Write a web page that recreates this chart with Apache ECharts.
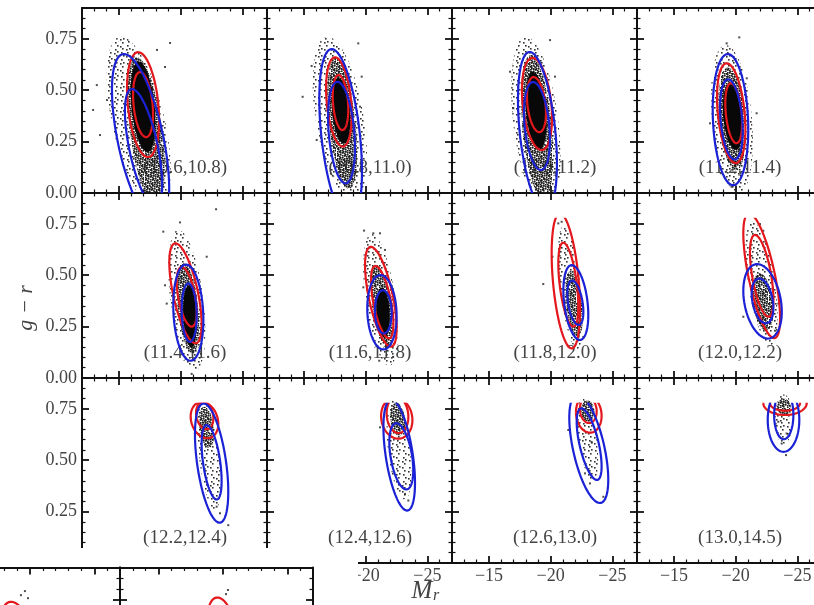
<!DOCTYPE html>
<html>
<head>
<meta charset="utf-8">
<script src="https://cdn.jsdelivr.net/npm/echarts@6/dist/echarts.min.js"></script>
<style>
html, body { margin: 0; padding: 0; background: #fff; }
#main { width: 814px; height: 605px; }
</style>
</head>
<body>
<div id="main"></div>
<script>
// bins of the panels, reading order
const binLabels = ['(10.6,10.8)', '(10.8,11.0)', '(11.0,11.2)', '(11.2,11.4)',
                   '(11.4,11.6)', '(11.6,11.8)', '(11.8,12.0)', '(12.0,12.2)',
                   '(12.2,12.4)', '(12.4,12.6)', '(12.6,13.0)', '(13.0,14.5)'];
const xTickValues = [-15, -20, -25];
const yTickValues = [0, 0.25, 0.5, 0.75];

// contours: [panel, centre Mr, centre g-r, half width (mag), half height, tilt]
const redContours = [
  [0, -16.95, 0.430, 1.30, 0.255, 0.30], [0, -16.95, 0.430, 0.81, 0.158, 0.30],
  [1, -17.83, 0.443, 1.04, 0.217, 0.30], [1, -17.96, 0.440, 0.63, 0.134, 0.25],
  [2, -18.89, 0.433, 1.22, 0.224, 0.30], [2, -18.85, 0.430, 0.77, 0.134, 0.30],
  [3, -19.64, 0.388, 1.15, 0.243, 0.32], [3, -19.84, 0.388, 0.68, 0.146, 0.33],
  [4, -20.39, 0.412, 1.31, 0.243, 0.62], [4, -20.49, 0.395, 0.81, 0.145, 0.50],
  [5, -21.23, 0.395, 1.28, 0.243, 0.63], [5, -21.34, 0.369, 0.91, 0.176, 0.60],
  [6, -21.23, 0.472, 1.15, 0.328, 0.41], [6, -21.43, 0.454, 0.81, 0.204, 0.50],
  [7, -22.11, 0.497, 1.49, 0.303, 0.68], [7, -22.11, 0.497, 0.95, 0.199, 0.57],
  [8, -21.93, 0.695, 1.12, 0.088, 0.20], [8, -21.95, 0.717, 0.70, 0.066, 0.20],
  [9, -22.52, 0.705, 1.27, 0.100, 0.10], [9, -22.58, 0.720, 0.88, 0.088, 0.10],
  [10, -23.09, 0.725, 1.04, 0.091, 0.10], [10, -23.05, 0.744, 0.68, 0.063, 0.10],
  [11, -24.00, 0.778, 1.76, 0.058, 0.00], [11, -24.00, 0.778, 1.22, 0.037, 0.00],
  [12, -18.90, 0.600, 1.20, 0.140, 0.30], [13, -19.90, 0.620, 1.10, 0.140, 0.30]
];
const blueContours = [
  [0, -16.75, 0.260, 2.32, 0.416, 0.58], [0, -16.99, 0.220, 1.51, 0.286, 0.62],
  [1, -17.97, 0.280, 1.73, 0.420, 0.42], [1, -18.04, 0.294, 1.09, 0.247, 0.30],
  [2, -18.93, 0.300, 1.58, 0.386, 0.40], [2, -18.89, 0.326, 1.05, 0.214, 0.30],
  [3, -19.58, 0.357, 1.44, 0.319, 0.15], [3, -19.65, 0.358, 0.92, 0.195, 0.29],
  [4, -20.62, 0.318, 1.22, 0.234, 0.15], [4, -20.69, 0.318, 0.61, 0.142, 0.10],
  [5, -21.32, 0.320, 1.19, 0.181, 0.10], [5, -21.43, 0.322, 0.68, 0.105, 0.05],
  [6, -22.04, 0.367, 1.01, 0.182, 0.33], [6, -22.00, 0.366, 0.65, 0.108, 0.41],
  [7, -22.18, 0.373, 1.56, 0.181, 0.28], [7, -22.18, 0.375, 0.88, 0.109, 0.31],
  [8, -22.51, 0.486, 1.35, 0.290, 0.48], [8, -22.51, 0.490, 0.81, 0.181, 0.50],
  [9, -22.72, 0.525, 1.28, 0.270, 0.50], [9, -22.89, 0.519, 0.97, 0.161, 0.42],
  [10, -23.09, 0.556, 1.58, 0.264, 0.57], [10, -23.12, 0.578, 1.01, 0.174, 0.62],
  [11, -23.88, 0.696, 1.28, 0.155, 0.00], [11, -23.90, 0.720, 0.78, 0.118, 0.00]
];

// where the galaxies pile up (same layout as contours)
const cloudSparse = [
  [0, -16.6, 0.34, 2.6, 0.42, 0.55], [1, -17.9, 0.36, 2.2, 0.40, 0.45],
  [2, -18.8, 0.34, 2.0, 0.42, 0.40], [3, -19.7, 0.36, 1.7, 0.36, 0.30],
  [4, -20.5, 0.38, 1.5, 0.34, 0.45], [5, -21.2, 0.38, 1.4, 0.32, 0.50],
  [6, -21.6, 0.44, 1.0, 0.30, 0.55], [7, -22.1, 0.46, 1.3, 0.30, 0.55],
  [8, -22.3, 0.52, 0.95, 0.26, 0.50], [9, -22.7, 0.55, 1.0, 0.24, 0.45],
  [10, -23.0, 0.60, 0.85, 0.20, 0.50], [11, -23.9, 0.70, 0.75, 0.12, 0.00]
];
const cloudDense = [
  [0, -17.2, 0.30, 1.5, 0.36, 0.50], [1, -18.1, 0.34, 1.2, 0.32, 0.45],
  [2, -18.9, 0.32, 1.3, 0.35, 0.40], [3, -19.7, 0.36, 1.1, 0.25, 0.30],
  [4, -20.6, 0.34, 0.9, 0.22, 0.40], [5, -21.3, 0.35, 0.85, 0.20, 0.50],
  [6, -21.9, 0.36, 0.7, 0.16, 0.40], [7, -22.2, 0.37, 0.85, 0.14, 0.30],
  [8, -22.1, 0.66, 0.6, 0.10, 0.30], [9, -22.6, 0.70, 0.6, 0.08, 0.20],
  [10, -23.0, 0.74, 0.55, 0.05, 0.00], [11, -23.9, 0.76, 0.55, 0.04, 0.00]
];
const cloudCore = [
  [0, -16.95, 0.42, 1.0, 0.22, 0.35], [1, -18.0, 0.40, 0.75, 0.16, 0.30],
  [2, -18.81, 0.40, 0.85, 0.19, 0.30], [3, -19.76, 0.37, 0.8, 0.16, 0.30],
  [4, -20.76, 0.30, 0.55, 0.15, 0.20], [5, -21.41, 0.32, 0.55, 0.12, 0.20]
];

// stray galaxies: [panel, Mr, g-r]
const looseDots = [
  [0, -19.14, 0.73], [0, -13.2, 0.525], [0, -13.46, 0.282], [0, -12.9, 0.404], [0, -18.08, 0.696],
  [0, -14.27, 0.564], [0, -18.73, 0.613], [0, -14.03, 0.452],
  [1, -19.4, 0.728], [1, -15.62, 0.618], [1, -14.89, 0.468], [1, -19.68, 0.566], [1, -16.03, 0.258], [1, -19.54, 0.42],
  [2, -19.95, 0.744], [2, -20.35, 0.566], [2, -16.97, 0.412], [2, -16.7, 0.59],
  [3, -20.29, 0.757], [3, -19.27, 0.728], [3, -21.7, 0.388], [3, -17.92, 0.339], [3, -20.9, 0.558],
  [3, -18.8, 0.096], [3, -19.66, 0.031],
  [4, -22.87, 0.821], [4, -19.95, 0.757], [4, -18.59, 0.712], [4, -18.73, 0.451], [4, -18.87, 0.362],
  [4, -20.89, 0.02], [4, -22.11, 0.59],
  [5, -19.87, 0.717], [5, -20.62, 0.704], [5, -21.16, 0.704], [5, -21.57, 0.623], [5, -19.81, 0.441],
  [5, -21.1, 0.084], [5, -22.38, 0.344],
  [6, -19.4, 0.457], [6, -20.62, 0.752], [6, -20.89, 0.76], [6, -22.65, 0.2], [6, -20.14, 0.59],
  [7, -20.62, 0.298], [7, -21.97, 0.749], [7, -22.24, 0.716], [7, -23.19, 0.23], [7, -23.46, 0.362],
  [8, -23.19, 0.242], [8, -22.92, 0.274], [8, -23.86, 0.184], [8, -21.3, 0.744],
  [9, -21.16, 0.66], [9, -23.19, 0.336], [9, -23.46, 0.304],
  [10, -21.43, 0.647], [10, -22.78, 0.436], [10, -23.19, 0.387], [10, -24.27, 0.322], [10, -23.32, 0.589],
  [11, -24.08, 0.525], [11, -23.46, 0.687], [11, -24.13, 0.63], [11, -23.73, 0.581],
  [12, -19.61, 0.79], [12, -19.3, 0.771], [12, -19.85, 0.757],
  [13, -20.39, 0.795], [13, -20.24, 0.776]
];

const LEFT0 = 82, TOP0 = 8, CELL = 185;
const xMin = -27, xMax = -12, yMax = 0.9, contourCeil = 0.78;
const RED = '#e3171c', BLUE = '#1b22d6';
const INK = '#111', TXT = '#444', SERIF = 'Liberation Serif';

let myChart = echarts.init(document.getElementById('main'));

// grainy texture for the point clouds (low discrepancy fill, no randomness)
function speckle(count, color) {
    const n = 24, c = document.createElement('canvas');
    c.width = c.height = n;
    const g = c.getContext('2d');
    g.fillStyle = color;
    for (let i = 0; i < count; i++) {
        const u = (0.5 + i * 0.7548776662) % 1, v = (0.5 + i * 0.5698402910) % 1;
        g.fillRect(Math.floor(u * n), Math.floor(v * n), 1.6, 1.6);
    }
    return c;
}
const cloudFills = [
    '#080808',
    { image: speckle(150, '#1e1e1e'), repeat: 'repeat' },
    { image: speckle(34, '#333'), repeat: 'repeat' }
];

function ringPoints(api) {
    const cx = api.value(0), cy = api.value(1), sx = api.value(2), sy = api.value(3), rho = api.value(4);
    const q = Math.sqrt(1 - rho * rho), pts = [];
    for (let k = 0; k <= 96; k++) {
        const t = k / 96 * Math.PI * 2;
        pts.push(api.coord([cx + sx * Math.cos(t), cy + sy * (rho * Math.cos(t) + q * Math.sin(t))]));
    }
    return pts;
}

function cloudItem(params, api) {
    const cs = params.coordSys;
    return {
        type: 'polygon',
        shape: { points: ringPoints(api) },
        style: { fill: cloudFills[api.value(5)], stroke: null },
        clipPath: { type: 'rect', shape: { x: cs.x, y: cs.y, width: cs.width, height: cs.height } }
    };
}

function contourItem(params, api) {
    const cs = params.coordSys;
    const top = Math.max(cs.y, api.coord([xMax, contourCeil])[1]);
    return {
        type: 'polyline',
        shape: { points: ringPoints(api) },
        style: { stroke: api.value(5) ? BLUE : RED, lineWidth: 2.2, fill: 'none' },
        clipPath: { type: 'rect', shape: { x: cs.x, y: top, width: cs.width, height: cs.y + cs.height - top } }
    };
}

function pick(list, gi, tag) {
    return list.filter(function (e) { return e[0] === gi; })
               .map(function (e) { return tag === undefined ? e.slice(1) : e.slice(1).concat([tag]); });
}

function fmtMag(v) { return xTickValues.indexOf(v) >= 0 ? '\u2212' + Math.abs(v) : ''; }
function fmtCol(v) { return yTickValues.indexOf(v) >= 0 ? v.toFixed(2) : ''; }

const tickCommon = {
    axisTick: { show: true, inside: true, length: 7, lineStyle: { color: INK, width: 1.8 } },
    minorTick: { show: true, splitNumber: 5, length: 3.5, lineStyle: { color: INK, width: 1.2 } },
    splitLine: { show: false },
    minorSplitLine: { show: false }
};

function xAxisOf(gi, pos, labels, z) {
    return Object.assign({
        gridIndex: gi, type: 'value', position: pos, min: xMin, max: xMax, inverse: true, splitNumber: 3, z: z,
        axisLine: { show: true, onZero: false, lineStyle: { color: INK, width: 2 } },
        axisLabel: { show: labels, margin: 4, color: TXT, fontFamily: SERIF, fontSize: 18, formatter: fmtMag }
    }, tickCommon);
}
function yAxisOf(gi, pos, labels, z) {
    return Object.assign({
        gridIndex: gi, type: 'value', position: pos, min: 0, max: yMax, interval: 0.25, z: z,
        axisLine: { show: true, onZero: false, lineStyle: { color: INK, width: 2 } },
        axisLabel: { show: labels, margin: 5, color: TXT, fontFamily: SERIF, fontSize: 18, formatter: fmtCol }
    }, tickCommon);
}

// 3 x 4 panels, then the two strays pasted at the bottom left
const panels = [];
for (let r = 0; r < 3; r++) {
    for (let c = 0; c < 4; c++) {
        panels.push({ left: LEFT0 + c * CELL, top: TOP0 + r * CELL, size: CELL, row: r, col: c, z: 0 });
    }
}
panels.push({ left: -73, top: 567.5, size: 193, row: -1, col: -1, z: 60 });
panels.push({ left: 120, top: 567.5, size: 193, row: -1, col: -1, z: 60 });

function drawChart() {
    const grid = [], xAxis = [], yAxis = [], series = [], graphic = [];

    panels.forEach(function (p, gi) {
        grid.push({ left: p.left, top: p.top, width: p.size, height: p.size, outerBoundsMode: 'none' });
        xAxis.push(xAxisOf(gi, 'bottom', p.row === 2, p.z));
        xAxis.push(xAxisOf(gi, 'top', false, p.z));
        yAxis.push(yAxisOf(gi, 'left', p.col === 0, p.z));
        yAxis.push(yAxisOf(gi, 'right', false, p.z));

        const clouds = pick(cloudSparse, gi, 2).concat(pick(cloudDense, gi, 1), pick(cloudCore, gi, 0));
        series.push({
            type: 'custom', xAxisIndex: 2 * gi, yAxisIndex: 2 * gi, z: p.z + 2, silent: true,
            renderItem: cloudItem, data: clouds
        });
        series.push({
            type: 'scatter', xAxisIndex: 2 * gi, yAxisIndex: 2 * gi, z: p.z + 3, silent: true,
            symbol: 'rect', symbolSize: 2, itemStyle: { color: '#222' }, data: pick(looseDots, gi)
        });
        series.push({
            type: 'custom', xAxisIndex: 2 * gi, yAxisIndex: 2 * gi, z: p.z + 4, silent: true,
            renderItem: contourItem, data: pick(redContours, gi, 0).concat(pick(blueContours, gi, 1))
        });

        if (gi < binLabels.length) {
            graphic.push({
                type: 'text', x: p.left + 103, y: p.top + 160, z: 1,
                style: { text: binLabels[gi], fill: TXT, font: '19px "Liberation Serif"', align: 'center', verticalAlign: 'middle' }
            });
        }
    });

    // white patch where the scan got cut
    graphic.push({ type: 'rect', z: 50, shape: { x: 0, y: 548, width: 358, height: 57 }, style: { fill: '#fff' } });

    graphic.push({
        type: 'text', x: 26, y: 308, rotation: Math.PI / 2, z: 5,
        style: { text: 'g \u2212 r', fill: TXT, font: 'italic 22px "Liberation Serif"', align: 'center', verticalAlign: 'middle' }
    });
    graphic.push({
        type: 'text', x: 422, y: 591, z: 5,
        style: { text: 'M', fill: TXT, font: 'italic 25px "Liberation Serif"', align: 'center', verticalAlign: 'middle' }
    });
    graphic.push({
        type: 'text', x: 436, y: 596, z: 5,
        style: { text: 'r', fill: TXT, font: 'italic 16px "Liberation Serif"', align: 'center', verticalAlign: 'middle' }
    });

    let option = {
        animation: false,
        backgroundColor: '#fff',
        grid: grid,
        xAxis: xAxis,
        yAxis: yAxis,
        series: series,
        graphic: { elements: graphic }
    };
    myChart.setOption(option);
}

drawChart();
</script>
</body>
</html>
